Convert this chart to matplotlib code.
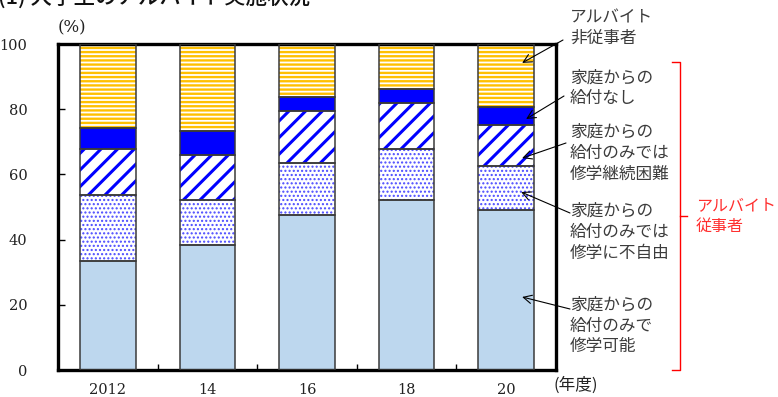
import matplotlib
matplotlib.use("Agg")
import matplotlib.pyplot as plt
import numpy as np

plt.rcParams['font.family'] = ['Noto Sans CJK JP', 'DejaVu Sans']

# ---- data (percent of students) ----
years = ["2012", "14", "16", "18", "20"]
kanou = [33.5, 38.2, 47.6, 52.2, 49.2]        # 給付のみで修学可能
fujiyu = [20.3, 14.1, 16.0, 15.7, 13.4]       # 給付のみでは修学に不自由
konnan = [13.9, 13.8, 15.7, 13.9, 12.5]       # 給付のみでは修学継続困難
nashi = [6.5, 7.2, 4.5, 4.4, 5.6]             # 家庭からの給付なし
hijuji = [25.8, 26.7, 16.2, 13.8, 19.3]       # アルバイト非従事者
yticks = [0, 20, 40, 60, 80, 100]

series = [
    (kanou,  "#BDD7EE", "#BDD7EE", None),
    (fujiyu, "white",   "#4A4AFF", "...."),
    (konnan, "white",   "#0000FF", "//"),
    (nashi,  "#0000FF", "#0000FF", None),
    (hijuji, "white",   "#FFC000", "----"),
]
hatch_lw = {None: 1.0, "....": 1.0, "//": 2.2, "----": 1.7}

W, H = 778, 397
fig = plt.figure(figsize=(W / 100, H / 100), dpi=100)
ax = fig.add_axes([58 / W, 1 - 370 / H, (556 - 58) / W, (370 - 44) / H])

x = np.arange(len(years))
bw = 0.56
bottom = np.zeros(len(years))
for vals, face, hc, hatch in series:
    vals = np.array(vals)
    plt.rcParams['hatch.linewidth'] = hatch_lw[hatch]
    bars = ax.bar(x, vals, bw, bottom=bottom, color=face, edgecolor=hc,
                  hatch=hatch, linewidth=0, zorder=2)
    for b in bars:
        if hasattr(b, "set_hatch_linewidth"):
            b.set_hatch_linewidth(hatch_lw[hatch])
    ax.bar(x, vals, bw, bottom=bottom, fill=False, edgecolor="#3a3a3a",
           linewidth=1.1, zorder=3)
    bottom += vals

ax.set_xlim(-0.5, 4.5)
ax.set_ylim(0, 100)
ax.set_yticks(yticks)
ax.set_yticklabels([str(v) for v in yticks], family="DejaVu Serif",
                   fontsize=10.5, color="#222222")
ax.set_xticks(x)
ax.set_xticklabels(years, family="DejaVu Serif", fontsize=10.5, color="#222222")
ax.set_xticks(np.arange(0.5, 4.0, 1.0), minor=True)
ax.tick_params(axis="x", which="major", length=0, pad=9)
ax.tick_params(axis="x", which="minor", direction="in", length=4, width=1)
ax.tick_params(axis="y", which="major", direction="in", length=5, width=1, pad=22)
for s in ax.spines.values():
    s.set_linewidth(2.4)
    s.set_color("black")

def fx(px):
    return px / W

def fy(py):
    return 1 - py / H

fig.text(fx(72), fy(28), "(%)", family="DejaVu Serif", fontsize=12,
         ha="center", va="center", color="#222222")
fig.text(fx(576), fy(385), "(年度)", fontsize=12, ha="center", va="center",
         color="#222222")

# title (cut at top as in the reference)
fig.text(fx(-2), fy(4), "(1) 大学生のアルバイト実施状況", fontsize=15.5,
         ha="left", va="baseline", color="#111111", fontweight="medium")

labels = [
    ("アルバイト\n非従事者", 28, (563, 40), (4.16, 94.2)),
    ("家庭からの\n給付なし", 88.5, (564, 96), (4.20, 77.0)),
    ("家庭からの\n給付のみでは\n修学継続困難", 153.5, (566, 143), (4.16, 65.0)),
    ("家庭からの\n給付のみでは\n修学に不自由", 232.5, (570, 213), (4.15, 54.6)),
    ("家庭からの\n給付のみで\n修学可能", 326, (570, 309), (4.16, 22.4)),
]
for txt, cy, tail, head in labels:
    fig.text(fx(570), fy(cy), txt, fontsize=12, ha="left", va="center",
             color="#3c3c3c", linespacing=1.3)
    ax.annotate("", xy=head, xycoords="data",
                xytext=(tail[0], H - tail[1]), textcoords="figure pixels",
                arrowprops=dict(arrowstyle="->,head_length=0.6,head_width=0.3",
                                color="black", lw=0.8, shrinkA=0, shrinkB=0),
                annotation_clip=False, zorder=5)

# red bracket
red = "#FF0000"
bx, btop, bbot, bmid = 680, 62, 370, 216
fig.add_artist(plt.Line2D([fx(672), fx(bx), fx(bx), fx(672)],
                          [fy(btop), fy(btop), fy(bbot), fy(bbot)],
                          color=red, lw=1.0))
fig.add_artist(plt.Line2D([fx(bx), fx(687)], [fy(bmid), fy(bmid)],
                          color=red, lw=1.0))
fig.text(fx(696), fy(216), "アルバイト\n従事者", fontsize=11.5, ha="left",
         va="center", color="#FF3030", linespacing=1.35)

fig.savefig("out.png", dpi=100)
